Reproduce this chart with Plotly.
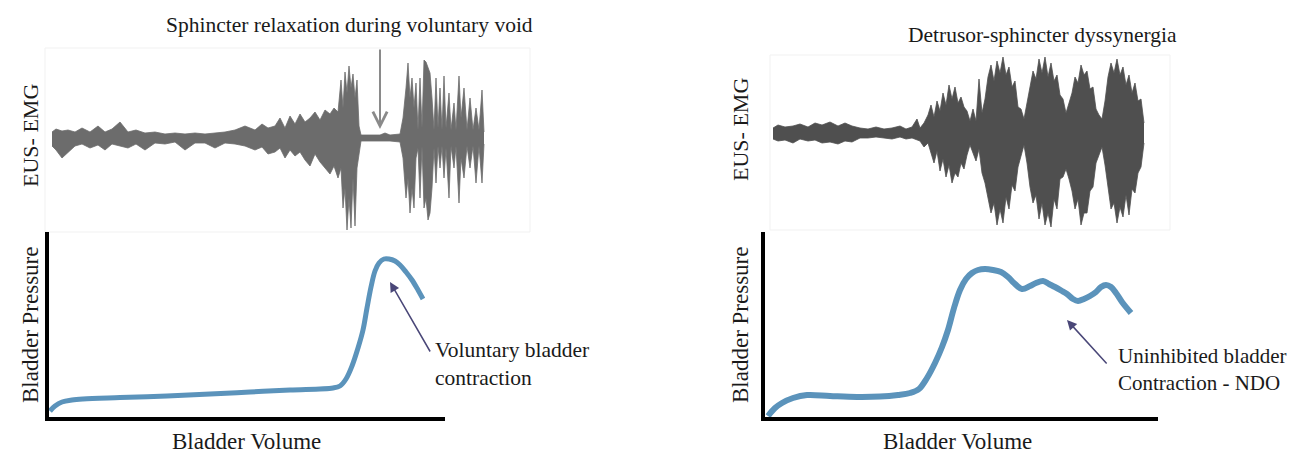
import plotly.graph_objects as go

W, H = 1294, 462

# ---------------- data ----------------
# Left EMG (sphincter relaxation during voluntary void): time (samples), envelope amplitude
emg1_t = [0,4,10,16,23,30,38,46,53,60,68,76,84,93,103,113,123,133,143,153,163,173,183,193,203,210,216,223,228,233,
          238,243,248,253,258,263,268,273,278,282,286,289,291,293,295,297,299,301,303,305,307,309,318,328,333,338,348,
          351,354,356,358,360,362,364,366,368,370,372,374,376,378,380,382,384,386,388,390,392,394,397,399,402,404,407,
          409,412,415,418,421,424,427,430,432]
emg1_up = [6,9,7,8,6,10,6,12,6,9,16,6,8,5,6,4,5,4,5,4,5,6,8,12,8,14,10,12,20,10,22,14,24,16,20,26,18,28,24,30,26,
           58,30,66,45,72,50,64,40,58,12,3,3,3,5,3,4,20,50,75,40,60,30,55,8,60,10,78,76,70,65,40,8,60,10,50,8,62,10,
           45,8,35,8,62,20,50,8,40,8,30,8,48,6]
emg1_lo = [-8,-12,-20,-14,-8,-6,-10,-7,-12,-6,-8,-10,-6,-12,-5,-6,-4,-12,-5,-5,-10,-5,-6,-8,-12,-9,-16,-14,-10,-20,
           -12,-18,-14,-22,-28,-16,-24,-30,-36,-28,-40,-30,-70,-50,-92,-60,-90,-40,-88,-30,-14,-3,-3,-3,-3,-3,-4,-20,
           -60,-40,-75,-50,-70,-20,-10,-60,-8,-70,-60,-82,-75,-50,-10,-45,-8,-30,-8,-40,-10,-60,-8,-30,-8,-65,-20,-40,
           -8,-30,-8,-45,-8,-45,-6]

# Right EMG (detrusor-sphincter dyssynergia)
emg2_t = [0,5,12,20,27,35,42,49,57,65,72,79,87,95,103,111,119,127,133,139,144,147,151,155,158,161,164,167,170,173,
          176,179,182,185,188,191,194,197,200,203,206,209,212,215,218,221,224,227,230,233,236,239,242,245,248,251,254,
          257,260,263,266,269,272,275,278,281,284,287,290,293,296,299,302,305,308,311,314,317,320,323,326,329,332,335,
          338,341,344,347,350,353,356,359,362,365,368,371]
emg2_up = [5,8,6,7,9,6,10,8,11,7,10,7,5,4,6,4,5,7,4,6,
           14,5,10,18,28,16,32,22,40,28,
           48,34,46,30,36,26,22,12,24,12,
           54,20,34,56,68,52,72,60,76,58,
           66,46,52,26,24,14,30,48,62,54,
           74,60,76,56,70,52,58,38,34,20,
           30,40,56,50,68,58,62,44,46,24,
           18,14,32,56,70,60,74,58,66,48,
           58,40,50,32,34,10]
emg2_lo = [-6,-8,-7,-10,-6,-8,-7,-10,-9,-11,-8,-9,-5,-5,-4,-5,-6,-4,-6,-5,
           -7,-8,-14,-10,-20,-30,-18,-38,-26,-44,
           -32,-50,-40,-44,-30,-36,-22,-12,-20,-28,
           -16,-40,-50,-64,-80,-70,-92,-76,-90,-64,
           -76,-52,-58,-34,-24,-12,-30,-54,-70,-62,
           -86,-70,-92,-80,-94,-66,-76,-46,-44,-36,
           -46,-58,-76,-66,-92,-80,-80,-58,-54,-30,
           -22,-14,-32,-56,-76,-70,-90,-74,-84,-62,
           -82,-56,-60,-40,-34,-10]

# Left pressure curve: volume, pressure
p1_vol = [2,7,14,24,35,72,119,162,202,242,285,292,298,304,310,315,319,323,327,331,336,341,347,352,358,364,370,375]
p1_prs = [3.5,6,8,9,9.5,10.2,11,12,13,14,15,16,19.5,26,35,44,55,65.5,73.5,77.5,79.5,79.5,78.5,76.5,73,69,64,59.5]

# Right pressure curve
p2_vol = [4,11,18,29,43,66,93,116,134,146,155,163,171,178,184,190,196,202,208,214,221,229,237,244,250,258,266,272,
          279,285,291,298,303,309,314,320,326,332,337,342,347,352,358,367]
p2_prs = [1.5,5.5,8,10.5,12,11.5,11,11.2,12,13,15,20.5,28,36,44.5,55.5,64.5,70,73,74.5,75,74.5,73.5,71,68,65,66.5,68,
          69,67.5,66,64,62.5,60,59,60,61.5,63.5,66,67,66,63,58.5,53]

# annotation anchor points (data units)
arrow1_head = (342, 68); arrow1_tail = (383, 32.5)
arrow2_head = (303, 49.5); arrow2_tail = (344, 27)
emg_arrow_t = 328; emg_arrow_from = 90; emg_arrow_to = 9

title_left = "Sphincter relaxation during voluntary void"
title_right = "Detrusor-sphincter dyssynergia"
note_left = "Voluntary bladder<br>contraction"
note_right = "Uninhibited bladder<br>Contraction - NDO"

# ---------------- helpers ----------------
def dx(a, b):
    return [a / W, b / W]

def dy(top, bottom):
    return [1 - bottom / H, 1 - top / H]

FONT = "Liberation Serif"
CURVE = "#5b93bb"
ARROW = "#4a4778"

fig = go.Figure()

# EMG traces
for (t, lo, up, xa, ya, col) in [(emg1_t, emg1_lo, emg1_up, "x", "y", "#6c6c6c"),
                                 (emg2_t, emg2_lo, emg2_up, "x3", "y3", "#4f4f4f")]:
    fig.add_trace(go.Scatter(x=t, y=lo, mode="lines", line=dict(color=col, width=0.8),
                             xaxis=xa, yaxis=ya, hoverinfo="skip", showlegend=False))
    fig.add_trace(go.Scatter(x=t, y=up, mode="lines", line=dict(color=col, width=0.8),
                             fill="tonexty", fillcolor=col,
                             xaxis=xa, yaxis=ya, hoverinfo="skip", showlegend=False))

# Pressure curves
fig.add_trace(go.Scatter(x=p1_vol, y=p1_prs, mode="lines", line=dict(color=CURVE, width=5, shape="spline"),
                         xaxis="x2", yaxis="y2", showlegend=False))
fig.add_trace(go.Scatter(x=p2_vol, y=p2_prs, mode="lines", line=dict(color=CURVE, width=6, shape="spline"),
                         xaxis="x4", yaxis="y4", showlegend=False))

noax = dict(visible=False, fixedrange=True)
pax = dict(showline=True, linecolor="black", linewidth=4, showticklabels=False, ticks="",
           showgrid=False, zeroline=False, fixedrange=True)

fig.update_layout(
    width=W, height=H,
    margin=dict(l=0, r=0, t=0, b=0),
    paper_bgcolor="white", plot_bgcolor="rgba(0,0,0,0)",
    xaxis=dict(domain=dx(45, 530), range=[-7, 478], **noax),
    yaxis=dict(domain=dy(48, 232), range=[-94, 90], **noax),
    xaxis2=dict(domain=dx(49, 445), range=[1, 397], anchor="y2", **pax),
    yaxis2=dict(domain=dy(232, 417), range=[0.5, 93], anchor="x2", **pax),
    xaxis3=dict(domain=dx(770, 1170), range=[-3, 397], anchor="y3", **noax),
    yaxis3=dict(domain=dy(55, 230), range=[-97, 78], anchor="x3", **noax),
    xaxis4=dict(domain=dx(765, 1158), range=[1, 394], anchor="y4", **pax),
    yaxis4=dict(domain=dy(232, 417), range=[1, 93.5], anchor="x4", **pax),
)

# faint scan borders around EMG images
for (x0, x1, y0, y1) in [(45, 530, 48, 232), (770, 1170, 55, 230)]:
    fig.add_shape(type="rect", xref="paper", yref="paper",
                  x0=x0 / W, x1=x1 / W, y0=1 - y1 / H, y1=1 - y0 / H,
                  line=dict(color="#f1f1f1", width=1), fillcolor="rgba(0,0,0,0)", layer="below")

def txt(x, y, s, size=23, angle=0, xanchor="center", align="center"):
    fig.add_annotation(x=x / W, y=1 - y / H, xref="paper", yref="paper", text=s, showarrow=False,
                       textangle=angle, xanchor=xanchor, yanchor="middle", align=align,
                       font=dict(family=FONT, size=size, color="#1a1a1a"))

txt(349, 25, title_left, size=21.5)
txt(1042, 35, title_right, size=21.5)
txt(30, 136, "EUS- EMG", size=22, angle=-90)
txt(740, 130, "EUS- EMG", size=22, angle=-90)
txt(30, 325, "Bladder Pressure", angle=-90)
txt(740, 325, "Bladder Pressure", angle=-90)
txt(246, 441, "Bladder Volume")
txt(958, 441, "Bladder Volume")
txt(433, 364, note_left, size=21.5, xanchor="left", align="left")
txt(1116, 369, note_right, size=21, xanchor="left", align="left")

# arrows
fig.add_annotation(x=arrow1_head[0], y=arrow1_head[1], ax=arrow1_tail[0], ay=arrow1_tail[1],
                   xref="x2", yref="y2", axref="x2", ayref="y2", showarrow=True, text="",
                   arrowhead=2, arrowsize=1.3, arrowwidth=1.5, arrowcolor=ARROW)
fig.add_annotation(x=arrow2_head[0], y=arrow2_head[1], ax=arrow2_tail[0], ay=arrow2_tail[1],
                   xref="x4", yref="y4", axref="x4", ayref="y4", showarrow=True, text="",
                   arrowhead=2, arrowsize=1.3, arrowwidth=1.5, arrowcolor=ARROW)
fig.add_annotation(x=emg_arrow_t, y=emg_arrow_to, ax=emg_arrow_t, ay=emg_arrow_from,
                   xref="x", yref="y", axref="x", ayref="y", showarrow=True, text="",
                   arrowhead=5, arrowsize=1.4, arrowwidth=2, arrowcolor="#8a8a8a")

fig.write_html("out.html", config={"displayModeBar": False},
               post_script="document.body.style.margin='0px';")
